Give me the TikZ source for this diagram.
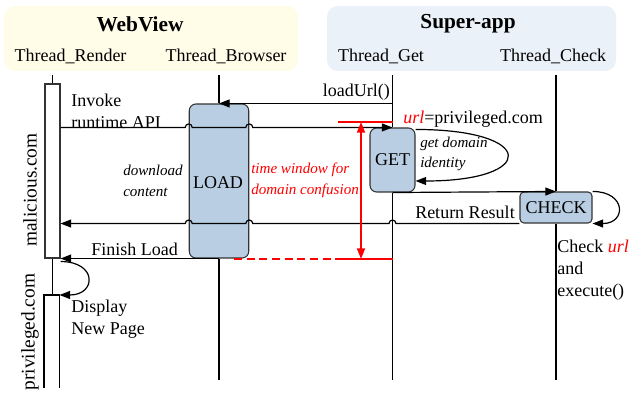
\documentclass[tikz,border=0pt]{standalone}
\usepackage{fontspec}
\setmainfont{Liberation Serif}
\usetikzlibrary{arrows.meta,calc}

\definecolor{webbg}{RGB}{255,253,232}
\definecolor{appbg}{RGB}{234,241,248}
\definecolor{actfill}{RGB}{185,206,226}

\tikzset{
  msg/.style={line width=0.9pt,-{Triangle[length=8pt,width=6pt]}},
  life/.style={line width=0.9pt},
  act/.style={draw=black!80,line width=0.8pt,fill=actfill,rounded corners=5pt,inner sep=0pt,font=\fontsize{13.5}{16}\selectfont},
  lbl/.style={inner sep=0pt,align=left,font=\fontsize{13.5}{16.5}\selectfont},
  note/.style={inner sep=0pt,align=left,font=\fontsize{11.3}{15.5}\selectfont\itshape},
  title/.style={inner sep=0pt,font=\fontsize{16}{19}\selectfont\bfseries},
  window/.style={red,line width=1.2pt},
}

\begin{document}
\begin{tikzpicture}[x=0.75pt,y=-0.75pt]
  \useasboundingbox (0,0) rectangle (630,398);

  \fill[webbg,rounded corners=8pt] (4,6) rectangle (298,71);
  \fill[appbg,rounded corners=8pt] (327,6) rectangle (616,71);

  \node[title] (webview) at (140,24) {WebView};
  \node[title] (superapp) at (468,24) {Super-app};

  \node[lbl] (render) at (70.5,56) {Thread\_Render};
  \node[lbl] (browser) at (226,56) {Thread\_Browser};
  \node[lbl] (get) at (381,56) {Thread\_Get};
  \node[lbl] (check) at (553,56) {Thread\_Check};

  % activation boxes
  \node[draw=black!80,line width=0.8pt,fill=white,minimum width=11.25pt,minimum height=130.5pt,inner sep=0pt] (rbox1) at (52.5,171) {};
  \node[act,minimum width=44.6pt,minimum height=115.5pt] (load) at (219,181) {};
  \node[lbl] (loadtxt) at (218,183) {LOAD};
  \node[act,minimum width=33.75pt,minimum height=48pt] (getbox) at (392.5,160) {GET};
  \node[act,rounded corners=3pt,minimum width=54pt,minimum height=23.25pt] (checkbox) at (556,207.5) {CHECK};
  \coordinate (r2w) at (44,295);
  \coordinate (r2e) at (59.5,295);

  % lifelines
  \draw[life] (rbox1.north |- 0,75) -- (rbox1.north);
  \draw[life] (rbox1.south) -- (rbox1.south |- r2e);
  \draw[life] (44,388) -- (r2w) -- (r2e) -- (59.5,388);
  \draw[life] (load.north |- 0,75) -- (load.north);
  \draw[life] (load.south) -- (load.south |- 0,380);
  \draw[life] (getbox.north |- 0,75) -- (getbox.north);
  \draw[life] (getbox.south) -- (getbox.south |- 0,380);
  \draw[life] (checkbox.north |- 0,75) -- (checkbox.north);
  \draw[life] (checkbox.south) -- (checkbox.south |- 0,380);

  % messages
  \draw[msg] (load.north -| getbox) -- (load.north);
  \draw[msg] (rbox1.east |- getbox.north)
    -- ($(load.west |- getbox.north)+(-3.5,0)$) arc[start angle=180,end angle=360,radius=3.5]
    -- ($(load.east |- getbox.north)+(-3.5,0)$) arc[start angle=180,end angle=360,radius=3.5]
    -- (getbox.north);
  \draw[msg] ($(getbox.north east)+(0,2)$) .. controls +(122,0) and +(122,0) .. ($(getbox.east)+(0,21)$);
  \draw[msg] (getbox.south) -- (checkbox.north);
  \draw[msg] (checkbox.north east) .. controls +(34,0) and +(34,0) .. (checkbox.south east);
  \draw[msg] (checkbox.south west)
    -- ($(getbox.south |- checkbox.south)+(3.5,0)$) arc[start angle=0,end angle=-180,radius=3.5]
    -- ($(load.east |- checkbox.south)+(3.5,0)$) arc[start angle=0,end angle=-180,radius=3.5]
    -- ($(load.west |- checkbox.south)+(3.5,0)$) arc[start angle=0,end angle=-180,radius=3.5]
    -- (rbox1.east |- checkbox.south);
  \draw[msg] (load.south) -- (load.south -| rbox1.east);
  \draw[msg] ($(rbox1.south east)+(0,3)$) .. controls +(37,0) and +(37,0) .. (r2e);

  % time window
  \coordinate (t1) at (361,122);
  \coordinate (t2) at (361,259);
  \draw[window] (338,122) -- (getbox.north |- t1);
  \draw[window,{Triangle[length=8pt,width=6pt]}-{Triangle[length=8pt,width=6pt]}] (t1) -- (t2);
  \draw[window,dash pattern=on 6pt off 3.5pt] (234,259) -- (336,259);
  \draw[window] (336,259) -- (getbox.south |- t2);

  % labels
  \node[lbl,anchor=east] (loadurl) at (390,92.5) {loadUrl()};
  \node[lbl,anchor=west] (invoke) at (71,111) {Invoke\\runtime API};
  \node[lbl,anchor=west] (url) at (403,119) {\textcolor{red}{\itshape url}=privileged.com};
  \node[note,anchor=west] (download) at (123,181) {download\\content};
  \node[note,anchor=west,text=red] (twindow) at (251,180) {time window for\\domain confusion};
  \node[note,anchor=west] (identity) at (420,154) {get domain\\identity};
  \node[lbl,anchor=east] (result) at (515,212) {Return Result};
  \node[lbl,anchor=west] (finish) at (91,249.5) {Finish Load};
  \node[lbl,anchor=west] (display) at (71,319) {Display\\New Page};
  \node[lbl,anchor=west] (execute) at (557,270) {Check \textcolor{red}{\itshape url}\\and\\execute()};

  \node[lbl,rotate=90,font=\fontsize{14.5}{17}\selectfont] (malicious) at (30,190) {malicious.com};
  \node[lbl,rotate=90,font=\fontsize{14.5}{17}\selectfont] (privileged) at (30,332) {privileged.com};
\end{tikzpicture}
\end{document}
